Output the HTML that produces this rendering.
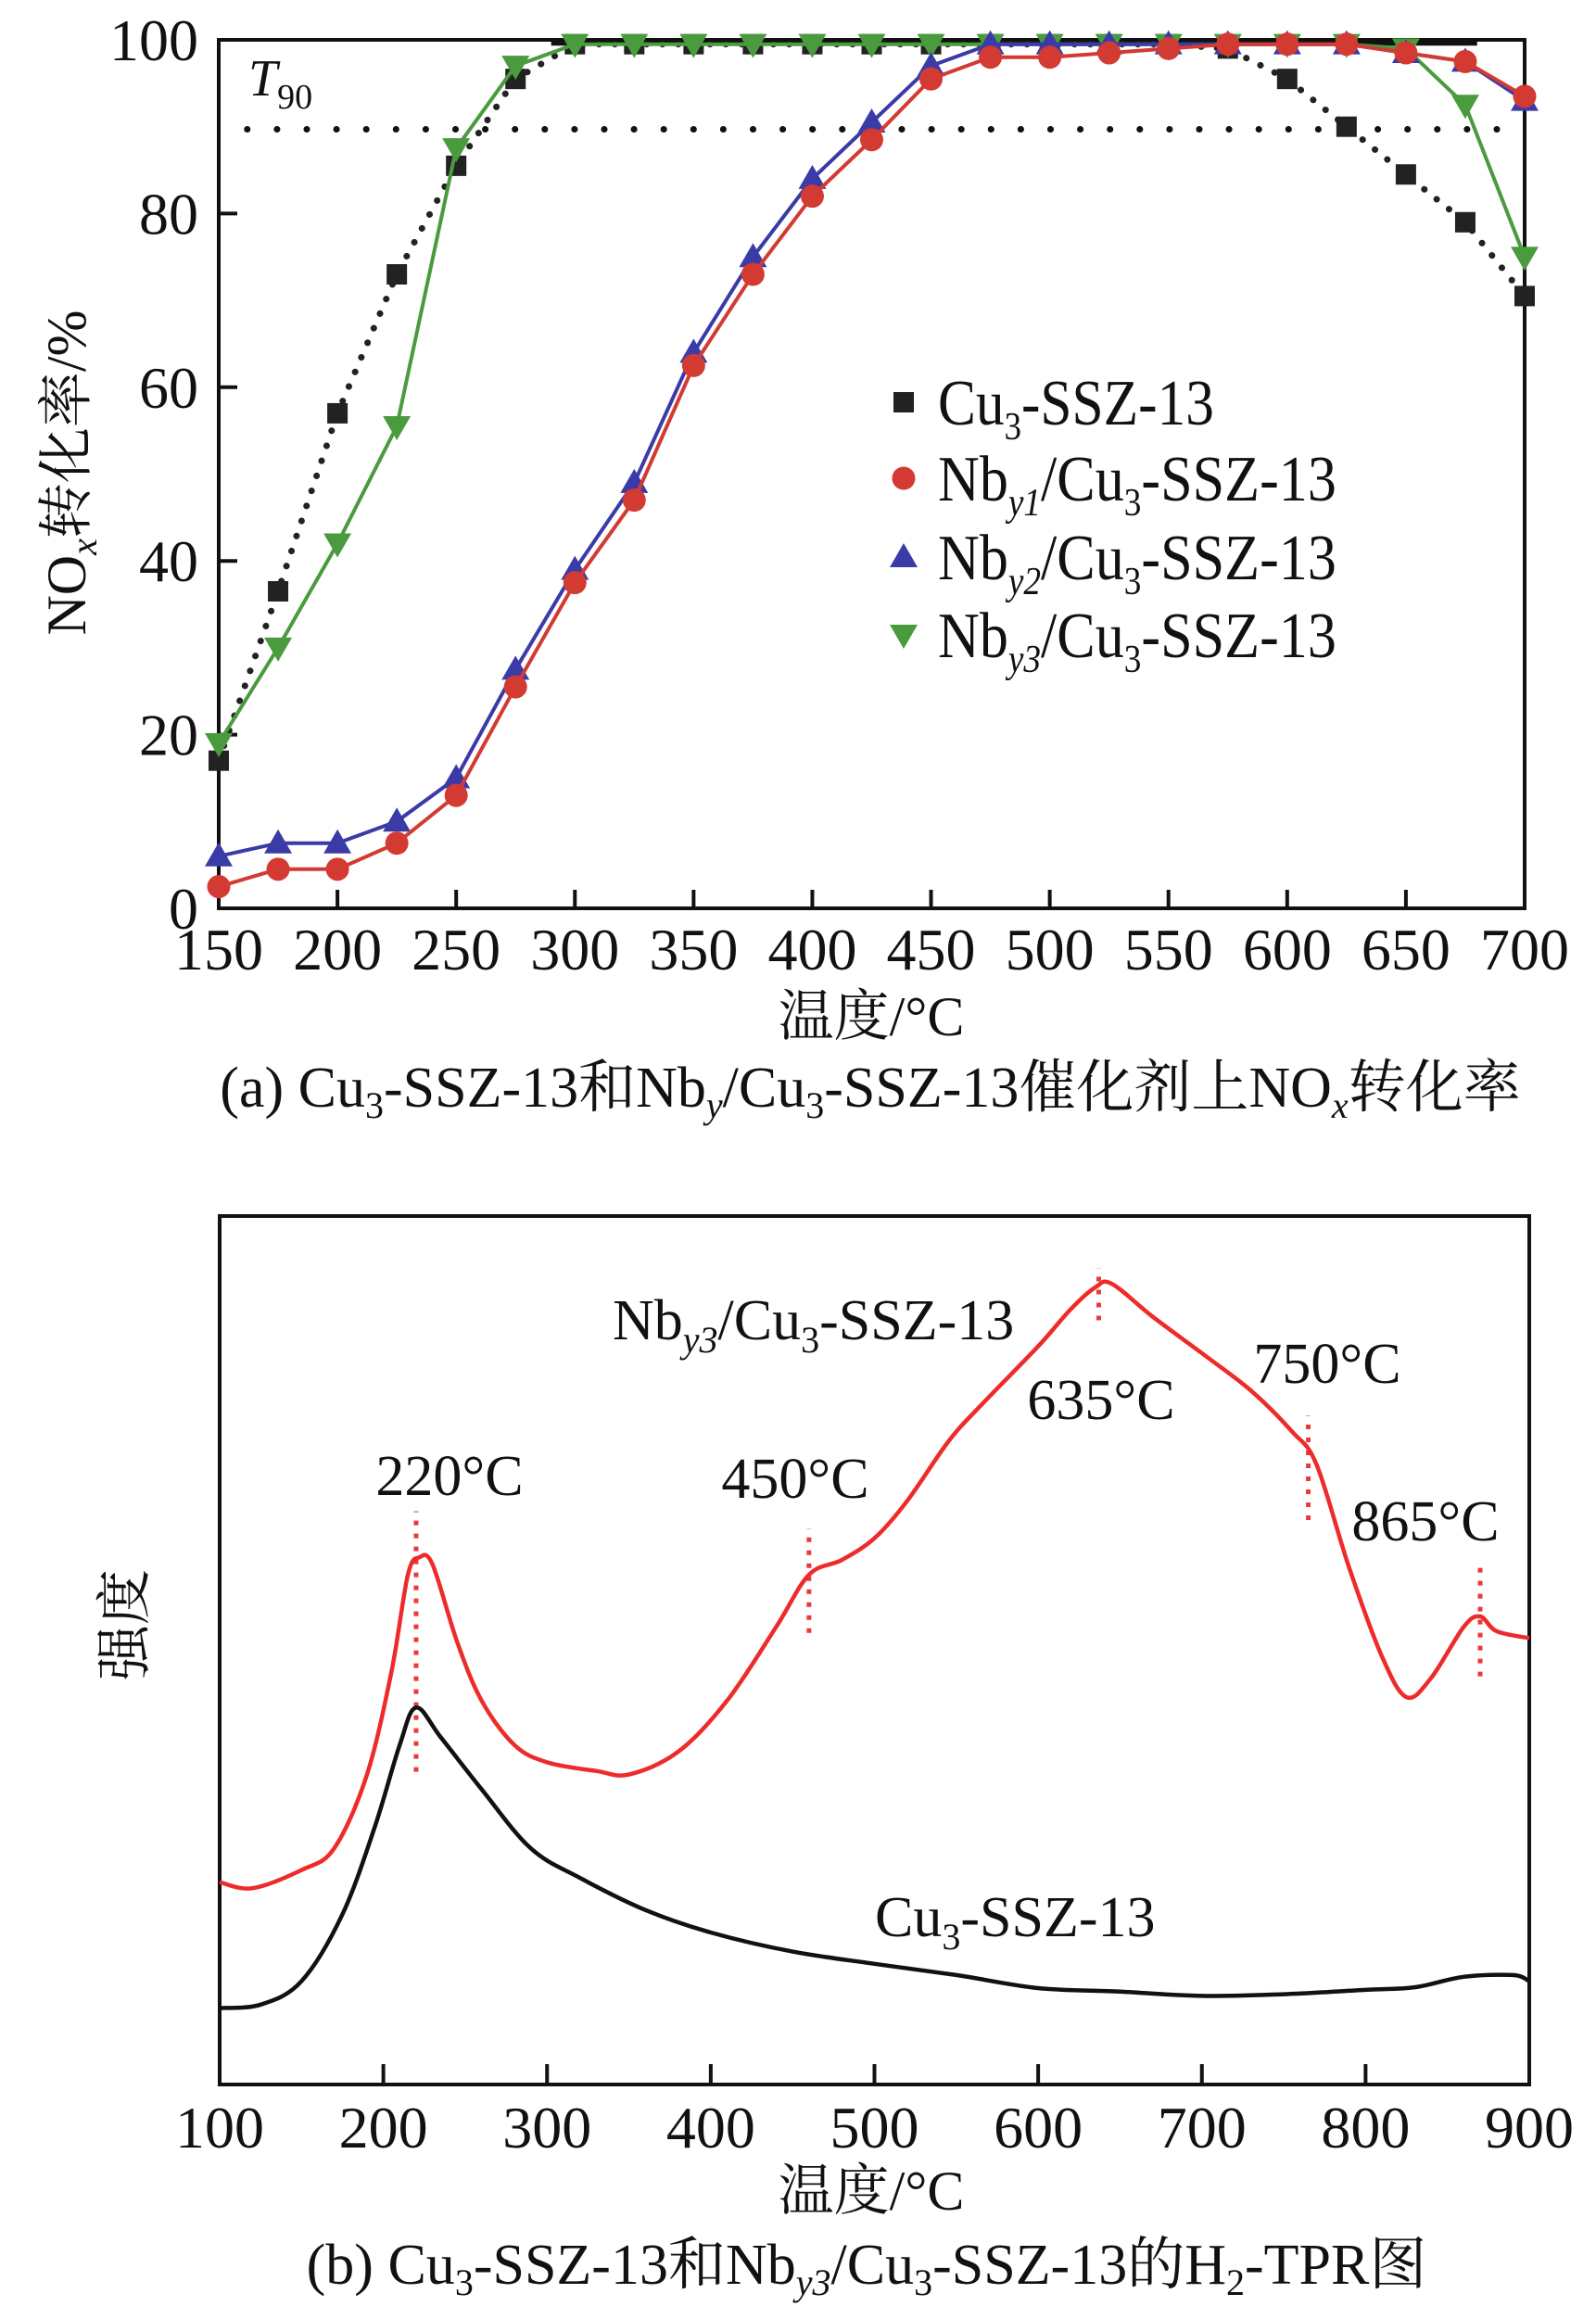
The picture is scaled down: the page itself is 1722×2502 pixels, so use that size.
<!DOCTYPE html>
<html><head><meta charset="utf-8"><style>
html,body{margin:0;padding:0;background:#fff;}
svg{display:block;}
text{font-family:"Liberation Serif","Noto Serif CJK SC","Noto Sans CJK SC",serif;fill:#111;}
</style></head><body>
<svg id="svg" width="1722" height="2502" viewBox="0 0 1722 2502" xmlns="http://www.w3.org/2000/svg">
<g id="topchart"></g>
<g id="botchart"></g>
</svg>
<script>
// ---- Chart (a) data ----
const tempsA = [150,175,200,225,250,275,300,325,350,375,400,425,450,475,500,525,550,575,600,625,650,675,700];
const cuVals = [17,36.5,57,73,85.5,95.5,99.5,99.5,99.5,99.5,99.5,99.5,99.5,99.5,99.5,99.5,99.5,99,95.5,90,84.5,79,70.5];
const nb1Vals = [2.5,4.5,4.5,7.5,13,25.5,37.5,47,62.5,73,82,88.5,95.5,98,98,98.5,99,99.5,99.5,99.5,98.5,97.5,93.5];
const nb2Vals = [6,7.5,7.5,10,15,27.5,39,49,64,75,84,90.5,97,99.5,99.5,99.5,99.5,99.5,99.5,99.5,98.5,97.5,93];
const nb3Vals = [19,30,42,55.5,87.5,97,99.5,99.5,99.5,99.5,99.5,99.5,99.5,99.5,99.5,99.5,99.5,99.5,99.5,99.5,99,92.5,75];
const xTicksA = [150,200,250,300,350,400,450,500,550,600,650,700];
const yTicksA = [0,20,40,60,80,100];
const t90 = 89.7;
// ---- Chart (b) data ----
const redT = [100,120,150,170,190,205,215,222,230,245,260,280,300,330,350,380,410,440,460,480,500,520,545,565,600,620,635,645,670,700,730,755,770,790,810,825,840,860,870,880,900];
const redI = [23.3,22.6,24.7,27.2,35.7,47.6,58.7,60.7,59.9,51,44.2,39.1,37.1,36.1,35.7,38.3,44.2,52.7,58.7,60.4,62.9,67.2,74,78.2,85,89.3,91.8,92.2,88.4,84.2,79.9,75.2,71.4,59.5,49.3,44.6,46.8,52.7,53.9,52.2,51.4];
const blkT = [100,125,150,175,195,210,220,235,260,290,320,360,400,450,500,550,600,650,700,750,800,830,860,890,900];
const blkI = [8.8,9.2,11.9,19.6,29.8,39.1,43.4,40,34,27.2,23.8,20.1,17.5,15.3,13.9,12.6,11.1,10.7,10.2,10.4,10.9,11.2,12.4,12.6,11.9];
const xTicksB = [100,200,300,400,500,600,700,800,900];
const peakT = [220,460,637,765,870];
const peakLo = [36,52,88,65,47];
const peakHi = [66,64,94,77,60];

const NS='http://www.w3.org/2000/svg';
function mk(parent,tag,attrs,txt){const el=document.createElementNS(NS,tag);for(const k in attrs)el.setAttribute(k,attrs[k]);if(txt!==undefined)el.textContent=txt;parent.appendChild(el);return el;}

// ---- axes (a) ----
const AL=236,AR=1645,AT=43,AB=980;
const xa=v=>AL+(v-150)/(700-150)*(AR-AL);
const ya=v=>AB-(v-0)/100*(AB-AT);
const gTop=document.getElementById('topchart');
let e;
e=mk(gTop,'rect',{x:AL,y:AT,width:AR-AL,height:AB-AT,fill:'none',stroke:'#111','stroke-width':4});


xTicksA.forEach(v=>{
  e=mk(gTop,'line',{x1:xa(v),x2:xa(v),y1:AB,y2:AB-20,stroke:'#111','stroke-width':4});
  
  
  e=mk(gTop,'text',{x:xa(v),y:AB+66,'font-size':64,'text-anchor':'middle'},String(v));
  
  
});
yTicksA.forEach(v=>{
  e=mk(gTop,'line',{x1:AL,x2:AL+20,y1:ya(v),y2:ya(v),stroke:'#111','stroke-width':4});
  
  
  e=mk(gTop,'text',{x:AL-22,y:ya(v)+22,'font-size':64,'text-anchor':'end'},String(v));
  
  
});
e=mk(gTop,'line',{x1:xa(290),x2:xa(680),y1:ya(99.6),y2:ya(99.6),stroke:'#111','stroke-width':5});


e=mk(gTop,'line',{x1:xa(162),x2:AR-5,y1:ya(t90),y2:ya(t90),stroke:'#111','stroke-width':7,'stroke-linecap':'round','stroke-dasharray':'0.1 32'});


e=mk(gTop,'text',{x:268,y:103,'font-size':56,'font-style':'italic'});
e.innerHTML='T<tspan font-size="38" font-style="normal" dy="14">90</tspan>';



function pts(xs,ys,fx,fy){return xs.map((x,i)=>fx(x).toFixed(1)+','+fy(ys[i]).toFixed(1)).join(' ');}
function marker(g,shape,cx,cy,color){
  if(shape==='sq') return mk(g,'rect',{x:cx-11,y:cy-11,width:22,height:22,fill:'#222'});
  if(shape==='ci') return mk(g,'circle',{cx:cx,cy:cy,r:12.5,fill:color});
  if(shape==='up') return mk(g,'polygon',{points:`${cx},${cy-15} ${cx-15},${cy+11} ${cx+15},${cy+11}`,fill:color});
  return mk(g,'polygon',{points:`${cx},${cy+15} ${cx-15},${cy-11} ${cx+15},${cy-11}`,fill:color});
}
const series=[
 {vals:cuVals,color:'#222',shape:'sq',dash:'0.1 17',w:7,name:'cu3-ssz13'},
 {vals:nb3Vals,color:'#4a9a3e',shape:'dn',dash:'',w:4,name:'nby3'},
 {vals:nb2Vals,color:'#3b3ba8',shape:'up',dash:'',w:4,name:'nby2'},
 {vals:nb1Vals,color:'#d33a32',shape:'ci',dash:'',w:4,name:'nby1'}
];
series.forEach(s=>{
  const g=mk(gTop,'g',{});
  
  
  const a={points:pts(tempsA,s.vals,xa,ya),fill:'none',stroke:s.color,'stroke-width':s.w};
  if(s.dash){a['stroke-dasharray']=s.dash;a['stroke-linecap']='round';}
  e=mk(g,'polyline',a);
  
  
  tempsA.forEach((t,i)=>{
    e=marker(g,s.shape,xa(t),ya(s.vals[i]),s.color);
    
    
  });
});
const leg=mk(gTop,'g',{});


const legRows=[
 {y:434,shape:'sq',color:'#222',html:'Cu<tspan font-size="42" dy="16">3</tspan><tspan dy="-16">-SSZ-13</tspan>',len:298},
 {y:516,shape:'ci',color:'#d33a32',html:'Nb<tspan font-size="42" font-style="italic" dy="16">y1</tspan><tspan dy="-16">/Cu</tspan><tspan font-size="42" dy="16">3</tspan><tspan dy="-16">-SSZ-13</tspan>',len:430},
 {y:601,shape:'up',color:'#3b3ba8',html:'Nb<tspan font-size="42" font-style="italic" dy="16">y2</tspan><tspan dy="-16">/Cu</tspan><tspan font-size="42" dy="16">3</tspan><tspan dy="-16">-SSZ-13</tspan>',len:430},
 {y:685,shape:'dn',color:'#4a9a3e',html:'Nb<tspan font-size="42" font-style="italic" dy="16">y3</tspan><tspan dy="-16">/Cu</tspan><tspan font-size="42" dy="16">3</tspan><tspan dy="-16">-SSZ-13</tspan>',len:430}
];
legRows.forEach(r=>{
  e=marker(leg,r.shape,975,r.y,r.color);
  
  
  e=mk(leg,'text',{x:1012,y:r.y+24,'font-size':70});
  e.innerHTML=r.html;
  
  
  const bb=e.getBBox();
  if(bb.width>0) e.setAttribute('transform',`translate(1012 0) scale(${r.len/bb.width} 1) translate(-1012 0)`);
});
e=mk(gTop,'text',{x:0,y:0,'font-size':60,transform:'translate(92 510) rotate(-90)','text-anchor':'middle'});
e.innerHTML='NO<tspan font-size="40" font-style="italic" dy="12">x</tspan><tspan dy="-12">转化率/%</tspan>';


e=mk(gTop,'text',{x:940,y:1117,'font-size':60,'text-anchor':'middle'},'温度/°C');


e=mk(gTop,'text',{x:939,y:1194,'font-size':62,'text-anchor':'middle'});
e.innerHTML='(a) Cu<tspan font-size="40" dy="12">3</tspan><tspan dy="-12">-SSZ-13和Nb</tspan><tspan font-size="40" font-style="italic" dy="12">y</tspan><tspan dy="-12">/Cu</tspan><tspan font-size="40" dy="12">3</tspan><tspan dy="-12">-SSZ-13催化剂上NO</tspan><tspan font-size="40" font-style="italic" dy="12">x</tspan><tspan dy="-12">转化率</tspan>';



// ---- axes (b) ----
const BL=237,BR=1650,BT=1312,BB=2249;
const xb=v=>BL+(v-100)/(900-100)*(BR-BL);
const yb=v=>BB-v/100*(BB-BT);
const gBot=document.getElementById('botchart');
e=mk(gBot,'rect',{x:BL,y:BT,width:BR-BL,height:BB-BT,fill:'none',stroke:'#111','stroke-width':4});


xTicksB.forEach(v=>{
  e=mk(gBot,'line',{x1:xb(v),x2:xb(v),y1:BB,y2:BB-22,stroke:'#111','stroke-width':4});
  
  
  e=mk(gBot,'text',{x:xb(v),y:BB+68,'font-size':64,'text-anchor':'middle'},String(v));
  
  
});
peakT.forEach((t,i)=>{
  e=mk(gBot,'line',{x1:xb(t),x2:xb(t),y1:yb(peakLo[i]),y2:yb(peakHi[i]),stroke:'#e83a3a','stroke-width':5,'stroke-dasharray':'5 9'});
  
  
});
function smooth(xs,ys){
  const P=xs.map((x,i)=>[xb(x),yb(ys[i])]);
  let d='M'+P[0][0].toFixed(1)+','+P[0][1].toFixed(1);
  for(let i=0;i<P.length-1;i++){
    const p0=P[i-1]||P[i],p1=P[i],p2=P[i+1],p3=P[i+2]||P[i+1];
    const c1=[p1[0]+(p2[0]-p0[0])/6,p1[1]+(p2[1]-p0[1])/6];
    const c2=[p2[0]-(p3[0]-p1[0])/6,p2[1]-(p3[1]-p1[1])/6];
    d+=` C${c1[0].toFixed(1)},${c1[1].toFixed(1)} ${c2[0].toFixed(1)},${c2[1].toFixed(1)} ${p2[0].toFixed(1)},${p2[1].toFixed(1)}`;
  }
  return d;
}
e=mk(gBot,'path',{d:smooth(redT,redI),fill:'none',stroke:'#ee2b2b','stroke-width':4.5,'stroke-linejoin':'round'});


e=mk(gBot,'path',{d:smooth(blkT,blkI),fill:'none',stroke:'#111','stroke-width':4.5,'stroke-linejoin':'round'});


const labs=[
 {x:485,y:1591,t:'220°C'},{x:858,y:1594,t:'450°C'},{x:1188,y:1509,t:'635°C'},{x:1432,y:1470,t:'750°C'},{x:1538,y:1640,t:'865°C'}
];
labs.forEach(l=>{
  e=mk(gBot,'text',{x:l.x,y:l.y+22,'font-size':62,'text-anchor':'middle'},l.t);
  
  
});
e=mk(gBot,'text',{x:661,y:1445,'font-size':62});
e.innerHTML='Nb<tspan font-size="40" font-style="italic" dy="14">y3</tspan><tspan dy="-14">/Cu</tspan><tspan font-size="40" dy="14">3</tspan><tspan dy="-14">-SSZ-13</tspan>';


e=mk(gBot,'text',{x:944,y:2089,'font-size':62});
e.innerHTML='Cu<tspan font-size="40" dy="14">3</tspan><tspan dy="-14">-SSZ-13</tspan>';


e=mk(gBot,'text',{x:0,y:0,'font-size':60,transform:'translate(155 1753) rotate(-90)','text-anchor':'middle'},'强度');


e=mk(gBot,'text',{x:940,y:2384,'font-size':60,'text-anchor':'middle'},'温度/°C');


e=mk(gBot,'text',{x:935,y:2464,'font-size':62,'text-anchor':'middle'});
e.innerHTML='(b) Cu<tspan font-size="40" dy="12">3</tspan><tspan dy="-12">-SSZ-13和Nb</tspan><tspan font-size="40" font-style="italic" dy="12">y3</tspan><tspan dy="-12">/Cu</tspan><tspan font-size="40" dy="12">3</tspan><tspan dy="-12">-SSZ-13的H</tspan><tspan font-size="40" dy="12">2</tspan><tspan dy="-12">-TPR图</tspan>';


</script>
</body></html>
